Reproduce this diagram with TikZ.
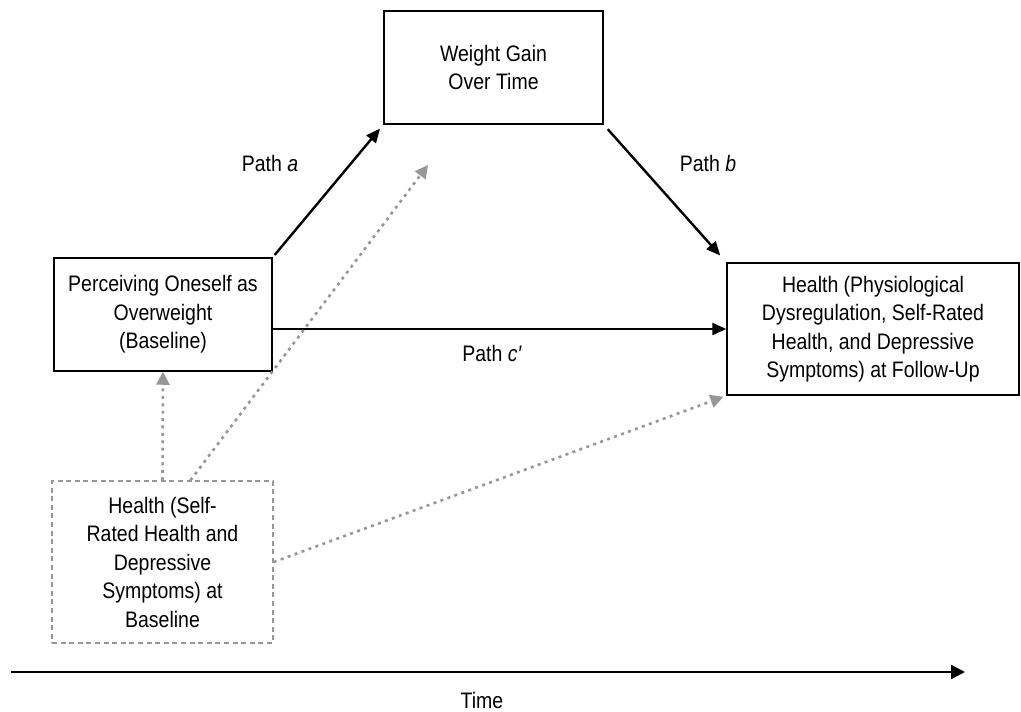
\documentclass[tikz,border=0pt]{standalone}
\usepackage{fontspec}
\setmainfont[FakeStretch=0.87]{Liberation Sans}
\usepackage{tikz}
\usetikzlibrary{positioning, arrows.meta}
\definecolor{dotGray}{HTML}{979797}

\begin{document}
\begin{tikzpicture}[
    x=0.5pt, y=-0.5pt,
    font=\fontsize{11.2}{14.25}\selectfont,
    box/.style={draw, line width=0.75pt, align=center, inner sep=0pt},
    dbox/.style={box, draw=dotGray, dash pattern=on 2.5pt off 1.8pt},
    arr/.style={-{Triangle[length=7pt,width=6pt]}, line width=1.2pt},
    darr/.style={-{Triangle[length=6.5pt,width=6.5pt]}, line width=1.3pt, dotGray, dash pattern=on 1.5pt off 2.2pt},
    lbl/.style={inner sep=0pt},
  ]
  \useasboundingbox (0,0) rectangle (1021,711);

  % boxes
  \node[box, minimum width=109.5pt, minimum height=56.5pt] (gain) at (493.5,67.5) {Weight Gain\\Over Time};
  \node[box, minimum width=109pt, minimum height=56.5pt] (perc) at (163,314.5) {Perceiving Oneself as\\Overweight\\(Baseline)};
  \node[box, minimum width=146pt, minimum height=66pt] (health) at (873,329) {Health (Physiological\\Dysregulation, Self-Rated\\Health, and Depressive\\Symptoms) at Follow-Up};
  \node[dbox, minimum width=110.5pt, minimum height=81pt] (base) at (162.5,562) {Health (Self-\\Rated Health and\\Depressive\\Symptoms) at\\Baseline};

  % mediation paths
  \draw[arr, shorten <=1.5pt, shorten >=2.5pt] (perc.north east) -- (gain.south west);
  \draw[arr, shorten <=3pt, shorten >=4.5pt] (gain.south east) -- (health.north west);
  \draw[arr] (perc.east |- health.west) -- (health.west);
  \node[lbl] (pa) at (270,163) {Path \textit{a}};
  \node[lbl] (pb) at (708,163) {Path \textit{b}};
  \node[lbl] (pc) at (492,353) {Path \textit{c′}};

  % baseline controls
  \coordinate (gaintip) at (428,165);
  \draw[darr] (base.north) -- (perc.south);
  \draw[darr] ([xshift=14pt]base.north) -- (gaintip);
  \draw[darr, shorten >=1.5pt] (base.east) -- (health.south west);

  % time axis
  \coordinate (t0) at (11,672);
  \coordinate (t1) at (965,672);
  \draw[-{Triangle[length=7pt,width=7pt]}, line width=1.2pt] (t0) -- (t1);
  \node[lbl] (time) at (482,700) {Time};
\end{tikzpicture}
\end{document}
